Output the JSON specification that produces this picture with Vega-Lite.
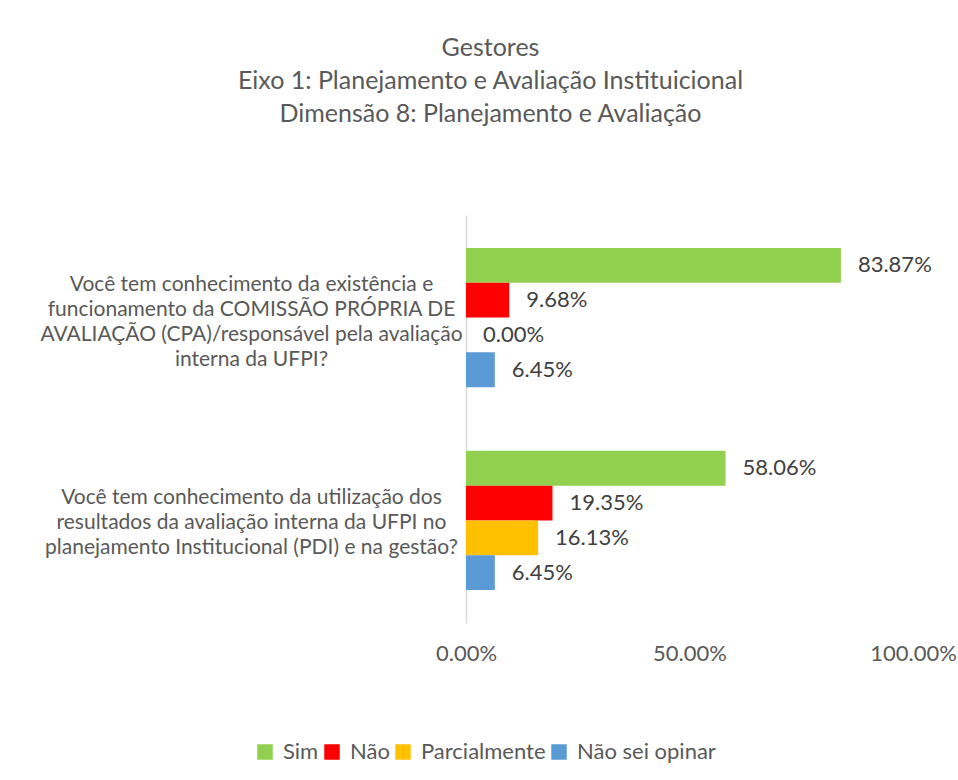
{
  "$schema": "https://vega.github.io/schema/vega-lite/v6.json",
  "width": 447,
  "height": 408,
  "autosize": {"type": "none"},
  "padding": {"left": 466, "top": 215, "right": 45, "bottom": 157},
  "background": "white",
  "title": {
    "text": ["Gestores", "Eixo 1: Planejamento e Avaliação Instituicional", "Dimensão 8: Planejamento e Avaliação"],
    "anchor": "middle",
    "frame": "group",
    "dx": -199,
    "offset": 88,
    "font": "Lato",
    "fontSize": 25,
    "fontWeight": "normal",
    "color": "#595959",
    "lineHeight": 33
  },
  "data": {
    "values": [
      {"q": "Você tem conhecimento da existência e|funcionamento da COMISSÃO PRÓPRIA DE|AVALIAÇÃO (CPA)/responsável pela avaliação|interna da UFPI?", "cat": "Sim", "v": 0.8387},
      {"q": "Você tem conhecimento da existência e|funcionamento da COMISSÃO PRÓPRIA DE|AVALIAÇÃO (CPA)/responsável pela avaliação|interna da UFPI?", "cat": "Não", "v": 0.0968},
      {"q": "Você tem conhecimento da existência e|funcionamento da COMISSÃO PRÓPRIA DE|AVALIAÇÃO (CPA)/responsável pela avaliação|interna da UFPI?", "cat": "Parcialmente", "v": 0.0},
      {"q": "Você tem conhecimento da existência e|funcionamento da COMISSÃO PRÓPRIA DE|AVALIAÇÃO (CPA)/responsável pela avaliação|interna da UFPI?", "cat": "Não sei opinar", "v": 0.0645},
      {"q": "Você tem conhecimento da utilização dos|resultados da avaliação interna da UFPI no|planejamento Institucional (PDI) e na gestão?", "cat": "Sim", "v": 0.5806},
      {"q": "Você tem conhecimento da utilização dos|resultados da avaliação interna da UFPI no|planejamento Institucional (PDI) e na gestão?", "cat": "Não", "v": 0.1935},
      {"q": "Você tem conhecimento da utilização dos|resultados da avaliação interna da UFPI no|planejamento Institucional (PDI) e na gestão?", "cat": "Parcialmente", "v": 0.1613},
      {"q": "Você tem conhecimento da utilização dos|resultados da avaliação interna da UFPI no|planejamento Institucional (PDI) e na gestão?", "cat": "Não sei opinar", "v": 0.0645}
    ]
  },
  "encoding": {
    "y": {
      "field": "q",
      "type": "nominal",
      "sort": null,
      "scale": {"paddingInner": 0.314, "paddingOuter": 0.162},
      "axis": {
        "title": null,
        "labelExpr": "split(datum.label, '|')",
        "labelAlign": "center",
        "labelBaseline": "middle",
        "labelPadding": 215,
        "labelLimit": 0,
        "labelOffset": {"condition": {"test": "indexof(datum.value, 'existência') >= 0", "value": -33}, "value": -22},
        "labelFont": "Lato",
        "labelFontSize": 21,
        "labelLineHeight": 25,
        "labelColor": "#595959",
        "ticks": false,
        "domain": true,
        "domainColor": "#D9D9D9",
        "domainWidth": 1.5
      }
    },
    "yOffset": {
      "field": "cat",
      "type": "nominal",
      "sort": ["Sim", "Não", "Parcialmente", "Não sei opinar"],
      "scale": {"paddingInner": 0, "paddingOuter": 0}
    },
    "x": {
      "field": "v",
      "type": "quantitative",
      "scale": {"domain": [0, 1], "nice": false},
      "axis": {
        "title": null,
        "values": [0, 0.5, 1],
        "format": ".2%",
        "grid": false,
        "ticks": false,
        "domain": false,
        "labelPadding": 20,
        "labelFont": "Lato",
        "labelFontSize": 22,
        "labelColor": "#595959",
        "labelFlush": false
      }
    }
  },
  "layer": [
    {
      "mark": {"type": "bar"},
      "encoding": {
        "color": {
          "field": "cat",
          "type": "nominal",
          "sort": ["Sim", "Não", "Parcialmente", "Não sei opinar"],
          "scale": {
            "domain": ["Sim", "Não", "Parcialmente", "Não sei opinar"],
            "range": ["#92D050", "#FF0000", "#FFC000", "#5B9BD5"]
          },
          "legend": {
            "title": null,
            "orient": "none",
            "direction": "horizontal",
            "legendX": -212,
            "legendY": 526,
            "symbolType": "square",
            "symbolSize": 240,
            "symbolStrokeWidth": 0,
            "labelFont": "Lato",
            "labelFontSize": 22,
            "labelColor": "#595959",
            "labelOffset": 7,
            "columnPadding": 2
          }
        }
      }
    },
    {
      "mark": {"type": "text", "align": "left", "baseline": "middle", "dx": 17, "font": "Lato", "fontSize": 22, "color": "#404040"},
      "encoding": {
        "text": {"field": "v", "type": "quantitative", "format": ".2%"}
      }
    }
  ],
  "config": {
    "view": {"stroke": null}
  }
}
